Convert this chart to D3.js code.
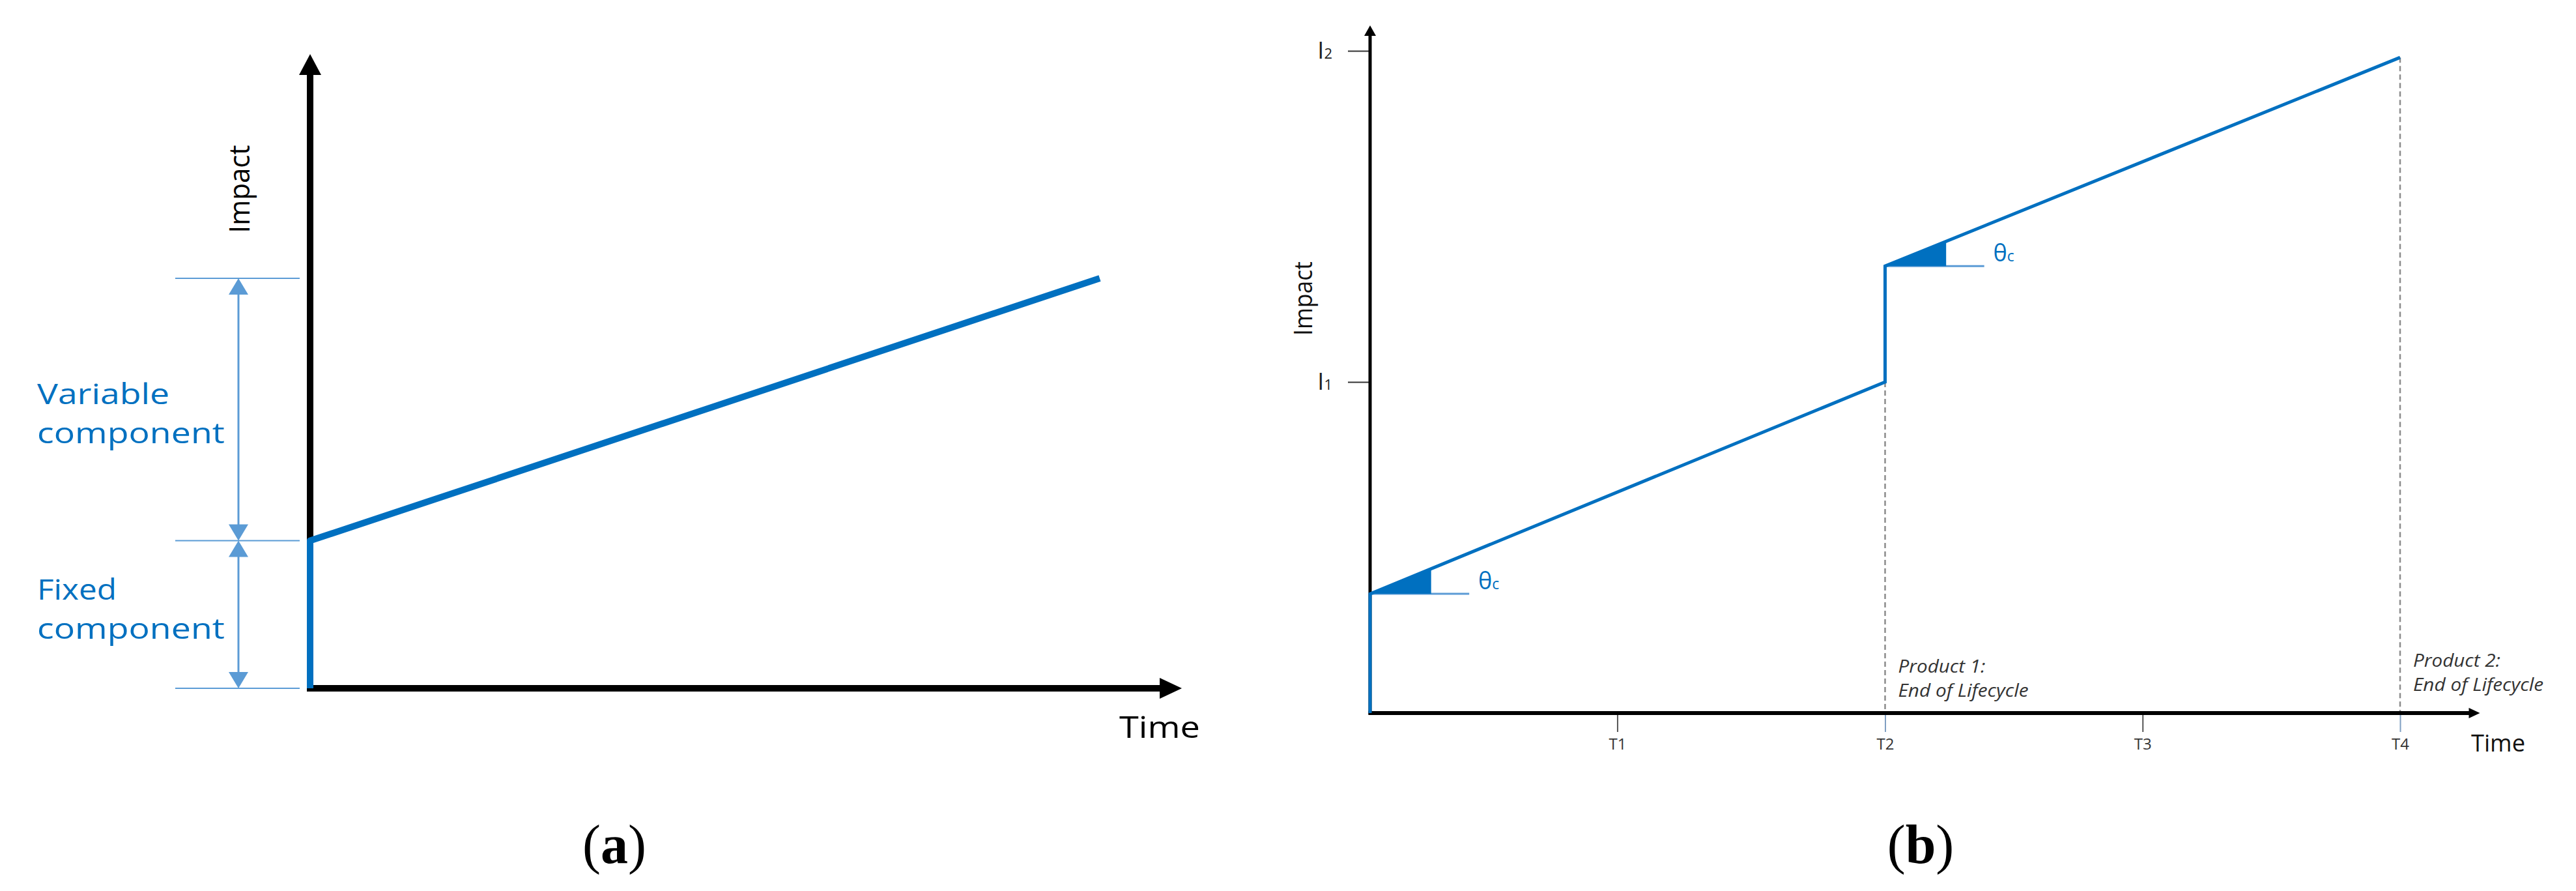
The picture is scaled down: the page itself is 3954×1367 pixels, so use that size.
<!DOCTYPE html>
<html>
<head>
<meta charset="utf-8">
<script src="https://cdn.jsdelivr.net/npm/d3@7"></script>
<style>
  body { margin: 0; background: #fff; }
  svg { display: block; }
</style>
</head>
<body>
<div id="chart"></div>
<script>
// ---- panel (a): fixed + variable impact over time ----
const aTime = [0, 0, 1];
const aImpact = [0, 0.36, 1];
const aLevels = [0, 0.36, 1];
const aParts = [
  { lines: ["Variable", "component"], from: 0.36, to: 1 },
  { lines: ["Fixed", "component"], from: 0, to: 0.36 }
];

// ---- panel (b): two products over consecutive lifecycles ----
const bTime = [0, 0, 2, 2, 4];
const bImpact = [0, 0.36, 1.0, 1.35, 1.98];
const tTicks = [0.96, 2, 3, 4];
const tLabels = ["T1", "T2", "T3", "T4"];
const iTicks = [1, 2];
const iSubs = ["1", "2"];
const eolTimes = [2, 4];
const eolLabels = ["Product 1:", "Product 2:"];
const slopeStarts = [[0, 0.36], [2, 1.35]];

const W = 3954, H = 1367;
const BLUE = '#0070C0';
const LIGHT = '#5B9BD5';
const FONT = '"Open Sans", "Noto Sans", sans-serif';

const svg = d3.select('#chart').append('svg')
  .attr('width', W)
  .attr('height', H);

svg.append('rect').attr('width', W).attr('height', H).attr('fill', '#fff');

// helper: axis line with a filled arrow head
function arrowAxis(g, x1, y1, x2, y2, width, headLen, headHalf) {
  const dx = x2 - x1, dy = y2 - y1;
  const len = Math.hypot(dx, dy);
  const ux = dx / len, uy = dy / len;
  const bx = x2 - ux * headLen, by = y2 - uy * headLen;
  g.append('line')
    .attr('x1', x1).attr('y1', y1)
    .attr('x2', bx + ux * 2).attr('y2', by + uy * 2)
    .attr('stroke', '#000').attr('stroke-width', width);
  g.append('path')
    .attr('d', `M${x2},${y2}L${bx - uy * headHalf},${by + ux * headHalf}L${bx + uy * headHalf},${by - ux * headHalf}Z`)
    .attr('fill', '#000');
}

/*** Panel (a) ***/
const ga = svg.append('g');
const xA = d3.scaleLinear().domain([0, 1]).range([476, 1688]);
const yA = d3.scaleLinear().domain([0, 1]).range([1056, 427]);

// axes
arrowAxis(ga, xA(0), yA(0) + 5, xA(0), yA(1.547), 10, 32, 17);
arrowAxis(ga, xA(0) - 5, yA(0), xA(1.104), yA(0), 10, 34, 16);

// dimension levels
ga.selectAll('.level')
  .data(aLevels)
  .enter().append('line')
  .attr('class', 'level')
  .attr('x1', 269).attr('x2', 460)
  .attr('y1', d => yA(d)).attr('y2', d => yA(d))
  .attr('stroke', LIGHT).attr('stroke-width', 2);

// dimension arrows
const dimX = 366;
aParts.forEach(p => {
  const yTop = yA(p.to), yBot = yA(p.from);
  ga.append('line')
    .attr('x1', dimX).attr('x2', dimX)
    .attr('y1', yTop + 20).attr('y2', yBot - 20)
    .attr('stroke', LIGHT).attr('stroke-width', 3);
  ga.append('path')
    .attr('d', `M${dimX},${yTop}L${dimX - 15},${yTop + 25}L${dimX + 15},${yTop + 25}Z`)
    .attr('fill', LIGHT);
  ga.append('path')
    .attr('d', `M${dimX},${yBot}L${dimX - 15},${yBot - 25}L${dimX + 15},${yBot - 25}Z`)
    .attr('fill', LIGHT);
});

// component labels
const partBase = [620, 920];
const partWidths = [[203, 288], [122, 288]];
aParts.forEach((p, i) => {
  p.lines.forEach((t, j) => {
    ga.append('text')
      .attr('x', 57)
      .attr('y', partBase[i] + j * 60)
      .attr('font-family', FONT)
      .attr('font-size', 43)
      .attr('fill', BLUE)
      .attr('textLength', partWidths[i][j])
      .attr('lengthAdjust', 'spacingAndGlyphs')
      .text(t);
  });
});

// impact line
const lineA = d3.line().x(d => xA(d[0])).y(d => yA(d[1]));
ga.append('path')
  .datum(d3.zip(aTime, aImpact))
  .attr('d', lineA)
  .attr('fill', 'none')
  .attr('stroke', BLUE)
  .attr('stroke-width', 10)
  .attr('stroke-linejoin', 'round');

// axis titles
ga.append('text')
  .attr('transform', 'translate(383,290) rotate(-90)')
  .attr('text-anchor', 'middle')
  .attr('font-family', FONT)
  .attr('font-size', 44)
  .attr('textLength', 135)
  .attr('lengthAdjust', 'spacingAndGlyphs')
  .attr('fill', '#000')
  .text('Impact');

ga.append('text')
  .attr('x', 1718).attr('y', 1132)
  .attr('font-family', FONT)
  .attr('font-size', 45)
  .attr('textLength', 124)
  .attr('lengthAdjust', 'spacingAndGlyphs')
  .attr('fill', '#000')
  .text('Time');

/*** Panel (b) ***/
const gb = svg.append('g');
const xB = d3.scaleLinear().domain([0, 4]).range([2103, 3684]);
const yB = d3.scaleLinear().domain([0, 2]).range([1094, 78]);

// end-of-lifecycle dashed markers
eolTimes.forEach((t, i) => {
  const top = d3.min(bTime.map((tt, k) => tt === t ? bImpact[k] : Infinity));
  gb.append('line')
    .attr('x1', xB(t)).attr('x2', xB(t))
    .attr('y1', yB(top)).attr('y2', yB(0))
    .attr('stroke', '#8c8c8c')
    .attr('stroke-width', 2.5)
    .attr('stroke-dasharray', '8,5');
  [eolLabels[i], 'End of Lifecycle'].forEach((s, j) => {
    gb.append('text')
      .attr('x', xB(t) + 20)
      .attr('y', 1032 - 9 * i + j * 37)
      .attr('font-family', FONT)
      .attr('font-style', 'italic')
      .attr('font-size', 28)
      .attr('fill', '#333')
      .attr('textLength', j ? 200 : 134)
      .attr('lengthAdjust', 'spacingAndGlyphs')
      .text(s);
  });
});

// time ticks
const tAxis = gb.append('g')
  .attr('transform', `translate(0,${yB(0)})`)
  .call(d3.axisBottom(xB).tickValues(tTicks).tickFormat((d, i) => tLabels[i]).tickSize(29).tickPadding(10));
tAxis.select('.domain').remove();
tAxis.selectAll('.tick line')
  .attr('stroke', d => eolTimes.includes(d) ? '#7f9fc2' : '#555')
  .attr('stroke-width', 2);
tAxis.selectAll('.tick text')
  .attr('font-family', FONT)
  .attr('font-size', 24)
  .attr('fill', '#333');

// impact ticks
const iAxis = gb.append('g')
  .attr('transform', `translate(${xB(0)},0)`)
  .call(d3.axisLeft(yB).tickValues(iTicks).tickFormat(() => 'I').tickSize(34).tickPadding(24));
iAxis.select('.domain').remove();
iAxis.selectAll('.tick line').attr('stroke', '#333').attr('stroke-width', 2);
iAxis.selectAll('.tick text')
  .attr('font-family', FONT)
  .attr('font-size', 36)
  .attr('fill', '#222')
  .append('tspan')
  .attr('font-size', 22)
  .text((d, i) => iSubs[i]);

// axes
arrowAxis(gb, xB(0), yB(0) + 2.5, xB(0), yB(2.077), 5, 16, 9);
arrowAxis(gb, xB(0) - 2.5, yB(0), xB(4.31), yB(0), 6, 17, 8);

// slope markers (theta c)
const slope = (bImpact[2] - bImpact[1]) / (bTime[2] - bTime[1]);
const triW = 0.237, refW = 0.385;
slopeStarts.forEach(([t0, v0]) => {
  gb.append('line')
    .attr('x1', xB(t0)).attr('x2', xB(t0 + refW))
    .attr('y1', yB(v0)).attr('y2', yB(v0))
    .attr('stroke', LIGHT).attr('stroke-width', 3);
  gb.append('path')
    .attr('d', `M${xB(t0)},${yB(v0)}L${xB(t0 + triW)},${yB(v0)}L${xB(t0 + triW)},${yB(v0 + slope * triW)}Z`)
    .attr('fill', BLUE);
  const lbl = gb.append('text')
    .attr('x', xB(t0 + 0.42))
    .attr('y', yB(v0) - 7)
    .attr('font-family', FONT)
    .attr('font-size', 36)
    .attr('fill', BLUE)
    .text('θ');
  lbl.append('tspan').attr('font-size', 23).text('c');
});

// impact line
const lineB = d3.line().x(d => xB(d[0])).y(d => yB(d[1]));
gb.append('path')
  .datum(d3.zip(bTime, bImpact))
  .attr('d', lineB)
  .attr('fill', 'none')
  .attr('stroke', BLUE)
  .attr('stroke-width', 5)
  .attr('stroke-linejoin', 'miter');

// axis titles
gb.append('text')
  .attr('transform', 'translate(2014,458) rotate(-90)')
  .attr('text-anchor', 'middle')
  .attr('font-family', FONT)
  .attr('font-size', 38)
  .attr('textLength', 114)
  .attr('lengthAdjust', 'spacingAndGlyphs')
  .attr('fill', '#111')
  .text('Impact');

gb.append('text')
  .attr('x', 3793).attr('y', 1153)
  .attr('font-family', FONT)
  .attr('font-size', 37)
  .attr('textLength', 83)
  .attr('lengthAdjust', 'spacingAndGlyphs')
  .attr('fill', '#111')
  .text('Time');

/*** Panel captions ***/
[['a', 943], ['b', 2948]].forEach(([s, cx]) => {
  const t = svg.append('text')
    .attr('x', cx).attr('y', 1324)
    .attr('text-anchor', 'middle')
    .attr('font-family', '"Liberation Serif", "Times New Roman", serif')
    .attr('font-size', 84)
    .attr('fill', '#000');
  t.append('tspan').text('(');
  t.append('tspan').attr('font-weight', 'bold').text(s);
  t.append('tspan').text(')');
});
</script>
</body>
</html>
